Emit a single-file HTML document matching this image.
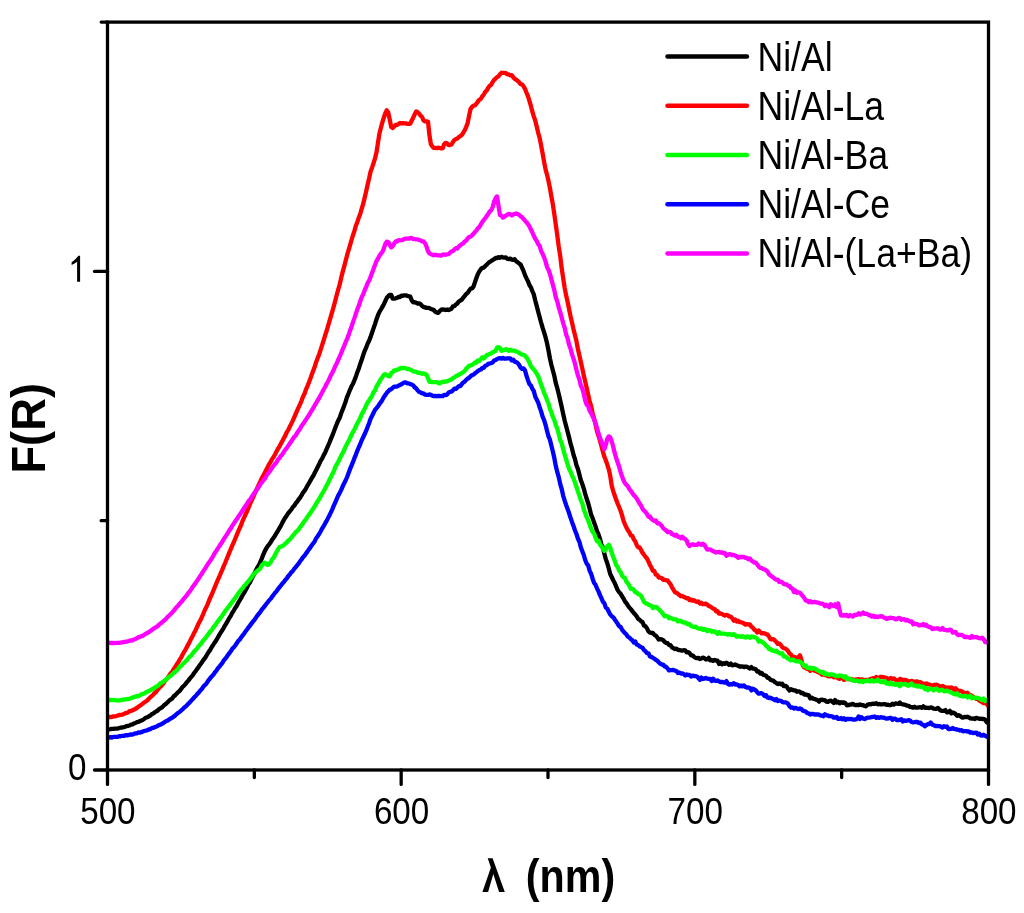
<!DOCTYPE html>
<html><head><meta charset="utf-8"><style>
html,body{margin:0;padding:0;background:#fff;overflow:hidden;}
svg{display:block;} svg{will-change:transform;}
</style></head><body>
<svg width="1024" height="913" viewBox="0 0 1024 913">
<rect width="1024" height="913" fill="#fff"/>
<g font-family="Liberation Sans, sans-serif" fill="#000">
<text transform="translate(107.90,823.50) scale(0.885,1)" text-anchor="middle" font-size="37.5" >500</text>
<text transform="translate(401.57,823.50) scale(0.885,1)" text-anchor="middle" font-size="37.5" >600</text>
<text transform="translate(695.23,823.50) scale(0.885,1)" text-anchor="middle" font-size="37.5" >700</text>
<text transform="translate(988.90,823.50) scale(0.885,1)" text-anchor="middle" font-size="37.5" >800</text>
<text transform="translate(86.50,780.30) scale(0.885,1)" text-anchor="end" font-size="37.5" >0</text><path d="M80.1,255.8 L78.4,255.8 C77,257.8 74.5,260.3 71.6,262.2 L71.6,265 C73.6,264 75.6,262.9 77.1,261.7 L77.1,281.8 L80.1,281.8 Z"/>
</g>
<g font-family="Liberation Sans, sans-serif" font-weight="bold" fill="#000">
<path d="M487.7,858.2 L492.6,858.2 L504.8,891.9 L499.1,891.9 L493.3,874.1 L488.1,891.9 L482.4,891.9 L490.9,867.5 Z"/>
<text transform="translate(525.80,892.00) scale(0.878,1)" text-anchor="start" font-size="47" >(nm)</text>
<g transform="translate(44.9,473.6) rotate(-90)"><text transform="translate(0.00,0.00) scale(0.935,1)" text-anchor="start" font-size="48.5" >F(R)</text></g>
</g>
<g stroke="#000" stroke-width="3.3" stroke-linecap="round">
<line x1="107.50" y1="770" x2="107.50" y2="784.4"/>
<line x1="254.33" y1="770" x2="254.33" y2="777.6"/>
<line x1="401.17" y1="770" x2="401.17" y2="784.4"/>
<line x1="548.00" y1="770" x2="548.00" y2="777.6"/>
<line x1="694.83" y1="770" x2="694.83" y2="784.4"/>
<line x1="841.67" y1="770" x2="841.67" y2="777.6"/>
<line x1="988.50" y1="770" x2="988.50" y2="784.4"/>
<line x1="107.5" y1="770.00" x2="94.5" y2="770.00"/>
<line x1="107.5" y1="520.70" x2="101.2" y2="520.70"/>
<line x1="107.5" y1="271.40" x2="94.5" y2="271.40"/>
<line x1="107.5" y1="22.10" x2="101.2" y2="22.10"/>
</g>
<g font-family="Liberation Sans, sans-serif" fill="#000">
<line x1="667.5" y1="56.6" x2="746.9" y2="56.6" stroke="#000000" stroke-width="4.5" stroke-linecap="round"/>
<text transform="translate(757.50,70.50) scale(0.89,1)" text-anchor="start" font-size="40" >Ni/Al</text>
<line x1="667.5" y1="105.8" x2="746.9" y2="105.8" stroke="#ff0000" stroke-width="4.5" stroke-linecap="round"/>
<text transform="translate(757.50,119.70) scale(0.89,1)" text-anchor="start" font-size="40" >Ni/Al-La</text>
<line x1="667.5" y1="155.0" x2="746.9" y2="155.0" stroke="#00ff00" stroke-width="4.5" stroke-linecap="round"/>
<text transform="translate(757.50,168.90) scale(0.89,1)" text-anchor="start" font-size="40" >Ni/Al-Ba</text>
<line x1="667.5" y1="204.3" x2="746.9" y2="204.3" stroke="#0000ff" stroke-width="4.5" stroke-linecap="round"/>
<text transform="translate(757.50,218.20) scale(0.89,1)" text-anchor="start" font-size="40" >Ni/Al-Ce</text>
<line x1="667.5" y1="253.5" x2="746.9" y2="253.5" stroke="#ff00ff" stroke-width="4.5" stroke-linecap="round"/>
<text transform="translate(757.50,267.40) scale(0.89,1)" text-anchor="start" font-size="40" >Ni/Al-(La+Ba)</text>
</g>
<clipPath id="clip"><rect x="107.5" y="22.1" width="881.0" height="747.9"/></clipPath>
<g clip-path="url(#clip)">
<polyline fill="none" stroke="#000000" stroke-width="4.3" stroke-linejoin="round" stroke-linecap="round" points="107.5,729.4 109.0,729.4 110.4,729.2 111.9,728.9 113.4,728.9 114.8,728.6 116.3,728.6 117.8,728.6 119.3,728.0 120.7,727.6 122.2,727.5 123.7,727.2 125.1,726.7 126.6,726.1 128.1,725.8 129.5,725.5 131.0,724.6 132.5,724.3 134.0,723.4 135.4,722.9 136.9,722.2 138.4,721.9 139.8,721.0 141.3,720.6 142.8,719.8 144.2,719.0 145.7,717.7 147.2,717.2 148.7,716.5 150.1,715.6 151.6,714.3 153.1,713.6 154.5,712.5 156.0,711.5 157.5,710.8 158.9,709.3 160.4,708.3 161.9,707.4 163.4,705.9 164.8,704.7 166.3,703.5 167.8,702.2 169.2,700.6 170.7,699.5 172.2,698.4 173.6,696.4 175.1,695.4 176.6,693.7 178.1,692.1 179.5,691.0 181.0,689.2 182.5,687.1 183.9,685.7 185.4,684.1 186.9,682.2 188.3,680.6 189.8,678.6 191.3,676.9 192.8,675.2 194.2,672.8 195.7,671.1 197.2,668.9 198.6,667.0 200.1,664.7 201.6,662.7 203.0,660.6 204.5,658.7 206.0,656.5 207.5,653.8 208.9,651.6 210.4,649.6 211.9,646.7 213.3,644.7 214.8,642.4 216.3,640.3 217.7,637.8 219.2,635.1 220.7,632.7 222.2,630.3 223.6,628.1 225.1,625.3 226.6,622.8 228.0,620.4 229.5,617.8 231.0,615.3 232.4,612.6 233.9,610.3 235.4,607.7 236.9,605.5 238.3,602.8 239.8,600.2 241.3,597.7 242.7,595.0 244.2,592.7 245.7,589.9 247.1,587.4 248.6,584.4 250.1,582.1 251.6,579.1 253.0,576.1 254.5,573.4 256.0,570.2 257.4,567.5 258.9,565.3 260.4,561.8 261.8,558.5 263.3,554.6 264.8,551.1 266.3,548.4 267.7,546.1 269.2,544.3 270.7,542.2 272.1,539.8 273.6,537.8 275.1,535.5 276.5,532.9 278.0,530.8 279.5,528.0 281.0,525.7 282.4,522.6 283.9,519.9 285.4,517.4 286.8,515.4 288.3,513.1 289.8,511.3 291.2,509.7 292.7,507.3 294.2,505.8 295.7,503.3 297.1,501.8 298.6,499.5 300.1,497.7 301.5,495.4 303.0,492.7 304.5,490.9 305.9,488.6 307.4,485.8 308.9,483.2 310.4,480.7 311.8,478.0 313.3,475.8 314.8,472.7 316.2,470.0 317.7,467.0 319.2,464.0 320.6,460.9 322.1,458.6 323.6,455.4 325.1,452.7 326.5,449.4 328.0,445.9 329.5,442.5 330.9,438.9 332.4,435.3 333.9,431.5 335.3,427.8 336.8,423.9 338.3,420.4 339.8,417.5 341.2,413.3 342.7,409.4 344.2,405.6 345.6,401.7 347.1,396.8 348.6,393.3 350.0,389.8 351.5,386.3 353.0,383.7 354.5,380.1 355.9,376.4 357.4,372.1 358.9,368.2 360.3,363.7 361.8,359.5 363.3,354.9 364.7,350.8 366.2,347.6 367.7,343.4 369.2,340.5 370.6,336.9 372.1,332.5 373.6,328.1 375.0,324.1 376.5,319.3 378.0,315.2 379.4,312.0 380.9,309.5 382.4,306.9 383.9,304.2 385.3,301.1 386.8,297.8 388.3,296.2 389.7,294.9 391.2,294.8 392.7,298.6 394.1,298.6 395.6,298.3 397.1,297.8 398.6,296.9 400.0,297.1 401.5,295.6 403.0,295.8 404.4,295.3 405.9,295.3 407.4,295.9 408.8,296.3 410.3,296.7 411.8,300.6 413.3,302.3 414.7,302.2 416.2,302.8 417.7,303.5 419.1,303.3 420.6,304.1 422.1,306.0 423.5,306.9 425.0,307.4 426.5,307.9 428.0,307.9 429.4,308.1 430.9,309.0 432.4,309.4 433.8,310.0 435.3,311.8 436.8,312.4 438.2,312.9 439.7,311.1 441.2,309.7 442.7,309.5 444.1,309.6 445.6,310.0 447.1,309.6 448.5,310.0 450.0,309.4 451.5,308.8 452.9,306.3 454.4,306.1 455.9,304.5 457.4,303.4 458.8,301.5 460.3,300.6 461.8,299.6 463.2,297.7 464.7,296.0 466.2,294.0 467.6,292.9 469.1,290.8 470.6,288.6 472.1,288.4 473.5,286.5 475.0,282.1 476.5,277.7 477.9,274.0 479.4,271.3 480.9,269.2 482.3,267.9 483.8,267.6 485.3,266.0 486.8,264.6 488.2,263.1 489.7,261.9 491.2,261.1 492.6,260.1 494.1,259.2 495.6,258.0 497.0,258.1 498.5,257.1 500.0,257.8 501.5,256.8 502.9,257.4 504.4,257.6 505.9,257.3 507.3,258.9 508.8,259.1 510.3,258.6 511.7,259.6 513.2,259.9 514.7,259.2 516.2,261.4 517.6,262.2 519.1,263.4 520.6,264.5 522.0,267.6 523.5,270.9 525.0,275.1 526.4,278.1 527.9,281.1 529.4,285.0 530.9,287.3 532.3,291.0 533.8,294.4 535.3,300.8 536.7,305.9 538.2,311.7 539.7,317.3 541.1,322.5 542.6,327.6 544.1,332.3 545.6,337.4 547.0,343.1 548.5,350.5 550.0,358.6 551.4,365.0 552.9,370.5 554.4,376.2 555.8,383.1 557.3,388.2 558.8,394.2 560.3,400.8 561.7,407.0 563.2,414.0 564.7,420.7 566.1,426.0 567.6,431.8 569.1,437.4 570.5,443.3 572.0,448.5 573.5,454.8 575.0,459.3 576.4,464.9 577.9,468.9 579.4,474.6 580.8,480.1 582.3,484.0 583.8,488.6 585.2,493.9 586.7,498.8 588.2,503.2 589.7,508.9 591.1,514.7 592.6,518.1 594.1,522.6 595.5,526.3 597.0,531.2 598.5,534.4 599.9,538.6 601.4,544.3 602.9,547.6 604.4,553.8 605.8,559.1 607.3,563.3 608.8,568.5 610.2,574.1 611.7,577.0 613.2,580.2 614.6,582.7 616.1,586.4 617.6,589.9 619.1,592.2 620.5,593.6 622.0,596.1 623.5,598.6 624.9,601.3 626.4,603.2 627.9,605.5 629.3,607.5 630.8,609.1 632.3,611.1 633.8,613.0 635.2,614.5 636.7,616.4 638.2,618.9 639.6,619.8 641.1,621.3 642.6,622.2 644.0,625.6 645.5,626.2 647.0,628.4 648.5,631.4 649.9,632.5 651.4,633.0 652.9,633.0 654.3,634.8 655.8,635.6 657.3,637.4 658.7,639.5 660.2,639.1 661.7,639.4 663.2,640.1 664.6,641.9 666.1,642.8 667.6,643.2 669.0,645.0 670.5,645.1 672.0,647.4 673.4,648.2 674.9,649.0 676.4,648.6 677.9,649.9 679.3,650.0 680.8,650.3 682.3,650.6 683.7,650.2 685.2,650.4 686.7,652.3 688.1,652.1 689.6,653.1 691.1,655.4 692.6,655.3 694.0,656.8 695.5,657.8 697.0,658.2 698.4,657.8 699.9,659.0 701.4,658.5 702.8,657.7 704.3,658.1 705.8,659.4 707.3,659.4 708.7,657.9 710.2,660.3 711.7,660.0 713.1,660.8 714.6,660.0 716.1,660.6 717.5,660.7 719.0,663.9 720.5,662.6 722.0,664.3 723.4,663.1 724.9,663.9 726.4,662.7 727.8,663.8 729.3,664.9 730.8,663.5 732.2,665.3 733.7,665.1 735.2,664.5 736.7,665.3 738.1,665.8 739.6,666.5 741.1,666.5 742.5,666.5 744.0,667.1 745.5,666.7 746.9,666.7 748.4,667.7 749.9,668.5 751.4,667.1 752.8,668.6 754.3,668.7 755.8,669.3 757.2,671.5 758.7,671.4 760.2,673.6 761.6,672.9 763.1,674.7 764.6,675.2 766.1,675.7 767.5,677.6 769.0,678.1 770.5,679.7 771.9,680.3 773.4,680.6 774.9,682.2 776.3,683.0 777.8,684.1 779.3,683.3 780.8,684.3 782.2,683.6 783.7,686.0 785.2,685.8 786.6,686.4 788.1,688.8 789.6,690.5 791.0,689.2 792.5,689.9 794.0,690.4 795.5,690.4 796.9,691.8 798.4,691.3 799.9,691.8 801.3,693.2 802.8,693.0 804.3,694.6 805.7,694.4 807.2,695.0 808.7,695.2 810.2,698.4 811.6,697.6 813.1,698.6 814.6,699.0 816.0,699.6 817.5,700.0 819.0,701.6 820.4,699.8 821.9,699.6 823.4,700.2 824.9,700.1 826.3,701.7 827.8,701.9 829.3,700.8 830.7,700.7 832.2,701.6 833.7,702.9 835.1,700.1 836.6,702.6 838.1,701.7 839.6,703.3 841.0,702.1 842.5,702.9 844.0,702.4 845.4,703.2 846.9,705.3 848.4,705.2 849.8,704.6 851.3,704.5 852.8,703.8 854.3,704.8 855.7,705.1 857.2,705.0 858.7,705.0 860.1,704.3 861.6,705.1 863.1,705.1 864.5,706.0 866.0,706.3 867.5,704.8 869.0,704.2 870.4,704.4 871.9,703.8 873.4,703.6 874.8,703.9 876.3,703.2 877.8,704.4 879.2,704.0 880.7,704.4 882.2,704.3 883.7,704.2 885.1,704.2 886.6,704.9 888.1,704.7 889.5,705.2 891.0,705.0 892.5,703.8 893.9,704.6 895.4,703.4 896.9,703.7 898.4,703.8 899.8,702.5 901.3,704.0 902.8,704.3 904.2,704.6 905.7,705.0 907.2,705.7 908.6,705.9 910.1,706.9 911.6,707.1 913.1,707.6 914.5,706.7 916.0,707.7 917.5,707.6 918.9,707.4 920.4,707.2 921.9,707.9 923.3,706.3 924.8,707.8 926.3,707.7 927.8,707.8 929.2,708.0 930.7,707.4 932.2,707.9 933.6,708.7 935.1,708.8 936.6,708.8 938.0,707.9 939.5,709.7 941.0,710.6 942.5,710.9 943.9,710.9 945.4,710.1 946.9,712.4 948.3,712.1 949.8,710.9 951.3,713.4 952.7,712.5 954.2,713.1 955.7,714.1 957.2,715.8 958.6,715.1 960.1,715.9 961.6,717.3 963.0,717.6 964.5,716.8 966.0,717.1 967.4,716.7 968.9,717.4 970.4,718.4 971.9,718.6 973.3,718.4 974.8,719.0 976.3,717.8 977.7,718.3 979.2,718.8 980.7,718.7 982.1,719.0 983.6,718.9 985.1,719.7 986.6,722.0 988.0,723.1"/>
<polyline fill="none" stroke="#ff0000" stroke-width="4.3" stroke-linejoin="round" stroke-linecap="round" points="107.5,716.9 109.0,717.2 110.4,717.0 111.9,716.9 113.4,716.3 114.8,716.3 116.3,716.0 117.8,715.6 119.3,715.0 120.7,714.9 122.2,714.7 123.7,714.1 125.1,713.4 126.6,712.9 128.1,712.5 129.5,711.1 131.0,710.9 132.5,710.3 134.0,709.5 135.4,708.9 136.9,707.9 138.4,706.8 139.8,705.8 141.3,704.8 142.8,703.5 144.2,702.5 145.7,701.5 147.2,700.5 148.7,698.8 150.1,697.5 151.6,696.1 153.1,694.9 154.5,693.2 156.0,692.0 157.5,689.9 158.9,688.4 160.4,686.7 161.9,685.2 163.4,683.4 164.8,681.1 166.3,679.3 167.8,677.6 169.2,675.4 170.7,673.2 172.2,671.6 173.6,669.3 175.1,667.1 176.6,664.6 178.1,662.5 179.5,659.9 181.0,657.7 182.5,654.8 183.9,652.2 185.4,649.8 186.9,646.9 188.3,644.4 189.8,641.5 191.3,638.4 192.8,635.7 194.2,632.7 195.7,629.9 197.2,626.6 198.6,623.5 200.1,620.7 201.6,617.7 203.0,614.5 204.5,610.8 206.0,607.6 207.5,604.6 208.9,600.9 210.4,597.3 211.9,594.2 213.3,590.8 214.8,587.1 216.3,583.5 217.7,580.1 219.2,577.0 220.7,573.3 222.2,569.9 223.6,566.4 225.1,563.0 226.6,559.3 228.0,555.9 229.5,552.1 231.0,548.7 232.4,545.1 233.9,542.0 235.4,538.2 236.9,534.6 238.3,531.2 239.8,527.8 241.3,524.5 242.7,520.6 244.2,517.3 245.7,514.0 247.1,511.2 248.6,507.5 250.1,503.9 251.6,500.7 253.0,497.7 254.5,494.0 256.0,490.7 257.4,487.8 258.9,484.5 260.4,481.4 261.8,478.1 263.3,475.6 264.8,472.7 266.3,469.7 267.7,467.0 269.2,463.9 270.7,461.8 272.1,459.1 273.6,456.8 275.1,454.3 276.5,451.6 278.0,448.7 279.5,446.5 281.0,443.6 282.4,441.0 283.9,438.1 285.4,435.4 286.8,432.1 288.3,429.9 289.8,426.7 291.2,423.9 292.7,420.9 294.2,417.4 295.7,413.8 297.1,410.7 298.6,407.3 300.1,404.1 301.5,400.8 303.0,396.8 304.5,393.7 305.9,389.7 307.4,386.3 308.9,382.4 310.4,378.5 311.8,374.6 313.3,370.5 314.8,366.4 316.2,362.0 317.7,358.1 319.2,354.2 320.6,349.8 322.1,345.2 323.6,340.5 325.1,335.5 326.5,331.3 328.0,326.1 329.5,321.2 330.9,316.1 332.4,311.1 333.9,305.8 335.3,300.6 336.8,294.8 338.3,289.3 339.8,284.1 341.2,277.7 342.7,271.9 344.2,266.4 345.6,261.0 347.1,255.2 348.6,250.2 350.0,245.3 351.5,240.0 353.0,235.1 354.5,230.7 355.9,225.7 357.4,221.7 358.9,217.4 360.3,213.8 361.8,208.3 363.3,203.5 364.7,197.5 366.2,191.2 367.7,184.3 369.2,178.0 370.6,171.4 372.1,167.4 373.6,163.0 375.0,158.3 376.5,152.4 378.0,142.6 379.4,133.7 380.9,127.8 382.4,122.1 383.9,117.5 385.3,113.2 386.8,110.3 388.3,112.7 389.7,119.4 391.2,127.0 392.7,128.1 394.1,126.6 395.6,125.0 397.1,124.8 398.6,123.9 400.0,123.0 401.5,123.5 403.0,123.1 404.4,123.3 405.9,123.4 407.4,123.9 408.8,123.9 410.3,123.6 411.8,120.4 413.3,117.5 414.7,114.3 416.2,111.4 417.7,112.1 419.1,113.6 420.6,115.7 422.1,117.0 423.5,120.3 425.0,121.4 426.5,121.4 428.0,121.6 429.4,134.9 430.9,144.3 432.4,146.5 433.8,147.9 435.3,147.8 436.8,148.2 438.2,147.7 439.7,148.0 441.2,148.4 442.7,148.4 444.1,144.3 445.6,142.9 447.1,143.4 448.5,145.0 450.0,145.0 451.5,144.5 452.9,142.1 454.4,140.0 455.9,139.1 457.4,138.5 458.8,137.1 460.3,136.2 461.8,134.9 463.2,132.9 464.7,130.4 466.2,126.9 467.6,123.3 469.1,115.6 470.6,108.8 472.1,106.9 473.5,105.6 475.0,105.4 476.5,103.6 477.9,101.5 479.4,99.7 480.9,98.7 482.3,96.2 483.8,94.6 485.3,91.8 486.8,90.4 488.2,87.7 489.7,85.7 491.2,84.7 492.6,82.1 494.1,79.9 495.6,78.6 497.0,77.2 498.5,76.2 500.0,74.2 501.5,72.7 502.9,72.8 504.4,72.9 505.9,73.2 507.3,74.3 508.8,74.4 510.3,75.3 511.7,75.2 513.2,77.1 514.7,79.0 516.2,79.7 517.6,80.9 519.1,82.2 520.6,84.2 522.0,84.3 523.5,86.3 525.0,88.9 526.4,92.5 527.9,95.9 529.4,100.9 530.9,105.9 532.3,111.5 533.8,116.4 535.3,120.8 536.7,126.6 538.2,132.8 539.7,138.1 541.1,145.3 542.6,153.3 544.1,161.8 545.6,169.7 547.0,174.6 548.5,181.1 550.0,188.4 551.4,196.6 552.9,204.7 554.4,214.8 555.8,224.7 557.3,235.5 558.8,247.0 560.3,256.5 561.7,268.4 563.2,278.3 564.7,288.1 566.1,295.2 567.6,301.8 569.1,309.2 570.5,316.2 572.0,322.4 573.5,329.2 575.0,335.2 576.4,340.8 577.9,349.0 579.4,355.4 580.8,361.8 582.3,368.4 583.8,375.6 585.2,381.5 586.7,388.0 588.2,394.8 589.7,401.6 591.1,406.0 592.6,413.3 594.1,418.2 595.5,424.0 597.0,431.2 598.5,435.9 599.9,440.4 601.4,445.9 602.9,451.6 604.4,456.8 605.8,460.2 607.3,464.6 608.8,469.3 610.2,475.6 611.7,485.6 613.2,491.1 614.6,495.3 616.1,499.5 617.6,503.5 619.1,507.0 620.5,510.5 622.0,515.1 623.5,520.7 624.9,524.1 626.4,527.5 627.9,530.2 629.3,532.2 630.8,535.4 632.3,535.9 633.8,539.4 635.2,541.2 636.7,545.1 638.2,547.4 639.6,547.4 641.1,550.0 642.6,552.9 644.0,554.8 645.5,556.8 647.0,558.5 648.5,561.7 649.9,564.9 651.4,567.5 652.9,570.9 654.3,571.0 655.8,574.7 657.3,575.0 658.7,577.5 660.2,577.7 661.7,578.1 663.2,579.8 664.6,579.7 666.1,580.3 667.6,580.5 669.0,582.3 670.5,584.1 672.0,587.3 673.4,589.5 674.9,592.2 676.4,592.8 677.9,593.7 679.3,595.1 680.8,596.2 682.3,596.0 683.7,596.8 685.2,597.5 686.7,598.3 688.1,598.2 689.6,600.1 691.1,599.6 692.6,600.7 694.0,600.2 695.5,601.4 697.0,601.8 698.4,601.5 699.9,603.6 701.4,602.8 702.8,604.2 704.3,604.1 705.8,603.6 707.3,604.5 708.7,605.9 710.2,606.5 711.7,607.5 713.1,608.6 714.6,609.0 716.1,611.4 717.5,611.1 719.0,613.7 720.5,613.5 722.0,614.0 723.4,614.8 724.9,615.6 726.4,614.9 727.8,615.3 729.3,616.5 730.8,616.6 732.2,618.2 733.7,620.7 735.2,619.6 736.7,621.5 738.1,620.6 739.6,622.2 741.1,622.2 742.5,622.7 744.0,623.5 745.5,624.7 746.9,624.1 748.4,624.5 749.9,624.5 751.4,626.7 752.8,627.6 754.3,629.8 755.8,630.4 757.2,632.4 758.7,630.5 760.2,632.1 761.6,633.4 763.1,633.1 764.6,633.3 766.1,634.3 767.5,634.4 769.0,636.5 770.5,639.2 771.9,639.5 773.4,639.1 774.9,640.5 776.3,641.9 777.8,643.9 779.3,643.7 780.8,644.9 782.2,647.1 783.7,648.2 785.2,648.5 786.6,649.5 788.1,651.1 789.6,653.6 791.0,654.3 792.5,657.5 794.0,656.9 795.5,657.4 796.9,658.0 798.4,657.1 799.9,655.3 801.3,659.4 802.8,665.4 804.3,667.3 805.7,667.9 807.2,669.1 808.7,668.5 810.2,671.0 811.6,668.5 813.1,669.7 814.6,670.7 816.0,671.1 817.5,671.9 819.0,672.7 820.4,673.0 821.9,674.7 823.4,673.0 824.9,675.2 826.3,675.2 827.8,676.1 829.3,676.4 830.7,675.8 832.2,676.1 833.7,677.3 835.1,677.1 836.6,676.4 838.1,678.5 839.6,678.8 841.0,676.4 842.5,678.0 844.0,679.9 845.4,679.1 846.9,679.1 848.4,679.2 849.8,679.2 851.3,679.6 852.8,679.4 854.3,680.3 855.7,679.5 857.2,679.5 858.7,679.0 860.1,679.8 861.6,679.2 863.1,679.7 864.5,680.5 866.0,680.0 867.5,679.9 869.0,679.6 870.4,679.1 871.9,678.6 873.4,678.2 874.8,678.6 876.3,677.0 877.8,678.5 879.2,677.4 880.7,676.8 882.2,677.0 883.7,677.1 885.1,678.0 886.6,677.8 888.1,679.6 889.5,678.7 891.0,678.0 892.5,679.3 893.9,678.4 895.4,679.8 896.9,680.5 898.4,680.3 899.8,678.9 901.3,679.3 902.8,681.0 904.2,680.0 905.7,679.8 907.2,680.6 908.6,681.8 910.1,681.3 911.6,680.9 913.1,681.4 914.5,682.0 916.0,681.5 917.5,681.5 918.9,682.6 920.4,682.2 921.9,683.1 923.3,683.5 924.8,685.4 926.3,683.4 927.8,684.2 929.2,684.5 930.7,685.1 932.2,685.8 933.6,685.0 935.1,685.0 936.6,684.6 938.0,685.3 939.5,686.6 941.0,686.5 942.5,686.0 943.9,686.7 945.4,687.3 946.9,688.0 948.3,687.5 949.8,688.1 951.3,687.4 952.7,688.2 954.2,690.5 955.7,688.3 957.2,690.0 958.6,690.9 960.1,690.9 961.6,691.2 963.0,692.2 964.5,692.9 966.0,693.4 967.4,692.8 968.9,694.7 970.4,694.9 971.9,695.8 973.3,697.0 974.8,698.0 976.3,698.9 977.7,698.7 979.2,700.5 980.7,701.4 982.1,702.2 983.6,703.2 985.1,703.0 986.6,703.9 988.0,705.5"/>
<polyline fill="none" stroke="#00ff00" stroke-width="4.3" stroke-linejoin="round" stroke-linecap="round" points="107.5,699.5 109.0,700.0 110.4,700.0 111.9,700.1 113.4,699.9 114.8,700.1 116.3,700.3 117.8,700.4 119.3,700.4 120.7,700.0 122.2,699.9 123.7,699.5 125.1,699.6 126.6,699.2 128.1,699.0 129.5,698.9 131.0,698.2 132.5,697.5 134.0,697.2 135.4,696.6 136.9,696.1 138.4,696.1 139.8,695.3 141.3,694.3 142.8,694.1 144.2,693.5 145.7,692.5 147.2,691.7 148.7,691.0 150.1,690.3 151.6,689.5 153.1,688.8 154.5,687.8 156.0,686.9 157.5,686.0 158.9,684.8 160.4,683.3 161.9,682.6 163.4,681.6 164.8,680.3 166.3,679.4 167.8,677.9 169.2,676.6 170.7,675.8 172.2,674.4 173.6,673.0 175.1,671.8 176.6,670.5 178.1,668.9 179.5,666.9 181.0,665.9 182.5,664.4 183.9,662.8 185.4,661.5 186.9,660.1 188.3,658.2 189.8,656.5 191.3,655.5 192.8,653.3 194.2,651.4 195.7,650.0 197.2,648.3 198.6,646.3 200.1,644.8 201.6,642.7 203.0,640.8 204.5,639.1 206.0,637.3 207.5,635.2 208.9,633.4 210.4,631.4 211.9,630.0 213.3,627.3 214.8,625.8 216.3,623.5 217.7,621.5 219.2,619.6 220.7,617.7 222.2,615.7 223.6,613.5 225.1,611.3 226.6,609.3 228.0,607.5 229.5,605.6 231.0,603.7 232.4,601.6 233.9,599.7 235.4,597.8 236.9,595.6 238.3,593.4 239.8,591.5 241.3,589.5 242.7,588.3 244.2,585.9 245.7,584.5 247.1,582.6 248.6,581.0 250.1,579.1 251.6,577.1 253.0,575.2 254.5,573.5 256.0,572.0 257.4,570.7 258.9,569.7 260.4,568.2 261.8,565.2 263.3,563.7 264.8,562.6 266.3,563.8 267.7,565.0 269.2,564.0 270.7,562.2 272.1,559.4 273.6,557.7 275.1,554.7 276.5,552.1 278.0,549.4 279.5,547.0 281.0,546.5 282.4,545.9 283.9,545.1 285.4,543.6 286.8,542.3 288.3,540.5 289.8,539.4 291.2,537.9 292.7,535.8 294.2,534.1 295.7,532.1 297.1,530.9 298.6,529.5 300.1,527.2 301.5,525.4 303.0,523.3 304.5,520.9 305.9,519.4 307.4,516.8 308.9,514.9 310.4,512.9 311.8,510.8 313.3,508.5 314.8,506.2 316.2,503.7 317.7,501.2 319.2,499.1 320.6,496.4 322.1,493.8 323.6,491.2 325.1,488.7 326.5,485.7 328.0,482.9 329.5,479.8 330.9,477.1 332.4,473.9 333.9,471.1 335.3,467.1 336.8,464.3 338.3,461.7 339.8,458.6 341.2,455.6 342.7,453.2 344.2,449.8 345.6,446.6 347.1,443.6 348.6,441.0 350.0,438.1 351.5,434.7 353.0,431.8 354.5,429.3 355.9,426.4 357.4,423.2 358.9,420.6 360.3,417.7 361.8,414.1 363.3,411.4 364.7,408.6 366.2,405.4 367.7,402.3 369.2,400.2 370.6,398.0 372.1,395.7 373.6,391.9 375.0,390.5 376.5,386.4 378.0,384.2 379.4,381.6 380.9,379.2 382.4,377.0 383.9,374.8 385.3,374.2 386.8,374.8 388.3,376.1 389.7,376.3 391.2,373.0 392.7,372.3 394.1,370.4 395.6,370.4 397.1,369.7 398.6,369.2 400.0,368.4 401.5,367.9 403.0,368.3 404.4,367.8 405.9,368.3 407.4,369.2 408.8,369.1 410.3,369.7 411.8,370.2 413.3,371.4 414.7,371.7 416.2,371.8 417.7,372.8 419.1,372.6 420.6,373.1 422.1,373.8 423.5,373.4 425.0,374.2 426.5,374.6 428.0,378.0 429.4,381.8 430.9,381.5 432.4,382.2 433.8,382.1 435.3,382.1 436.8,382.1 438.2,383.1 439.7,383.3 441.2,382.4 442.7,381.7 444.1,382.0 445.6,381.3 447.1,381.4 448.5,380.7 450.0,380.1 451.5,379.4 452.9,378.1 454.4,377.3 455.9,376.0 457.4,375.7 458.8,374.5 460.3,374.1 461.8,372.8 463.2,372.1 464.7,370.9 466.2,368.6 467.6,367.3 469.1,365.8 470.6,365.4 472.1,364.9 473.5,363.8 475.0,362.5 476.5,362.6 477.9,360.5 479.4,360.9 480.9,359.0 482.3,357.2 483.8,358.5 485.3,357.1 486.8,355.0 488.2,354.7 489.7,353.9 491.2,353.5 492.6,352.2 494.1,351.7 495.6,350.9 497.0,347.6 498.5,347.2 500.0,348.1 501.5,350.8 502.9,349.8 504.4,350.2 505.9,349.2 507.3,349.5 508.8,350.7 510.3,349.7 511.7,350.6 513.2,350.7 514.7,350.7 516.2,351.6 517.6,352.1 519.1,352.7 520.6,353.9 522.0,354.6 523.5,354.8 525.0,355.7 526.4,357.5 527.9,359.3 529.4,362.6 530.9,366.2 532.3,367.8 533.8,369.5 535.3,371.4 536.7,373.4 538.2,376.5 539.7,380.3 541.1,384.6 542.6,388.4 544.1,392.8 545.6,396.1 547.0,400.0 548.5,403.5 550.0,409.0 551.4,412.4 552.9,417.0 554.4,420.4 555.8,425.0 557.3,428.8 558.8,434.3 560.3,440.3 561.7,443.2 563.2,449.4 564.7,454.7 566.1,459.1 567.6,464.3 569.1,468.9 570.5,471.5 572.0,475.5 573.5,478.5 575.0,482.6 576.4,486.8 577.9,491.4 579.4,495.7 580.8,500.1 582.3,503.3 583.8,509.5 585.2,513.3 586.7,517.2 588.2,520.5 589.7,524.6 591.1,528.7 592.6,531.9 594.1,533.6 595.5,537.6 597.0,541.2 598.5,540.6 599.9,544.4 601.4,546.4 602.9,548.4 604.4,551.0 605.8,549.3 607.3,546.3 608.8,544.8 610.2,547.6 611.7,552.8 613.2,557.0 614.6,560.4 616.1,565.1 617.6,566.7 619.1,570.6 620.5,571.9 622.0,575.5 623.5,577.3 624.9,578.0 626.4,581.8 627.9,583.3 629.3,585.7 630.8,588.8 632.3,588.7 633.8,589.8 635.2,592.3 636.7,592.3 638.2,594.1 639.6,594.5 641.1,595.9 642.6,598.9 644.0,601.9 645.5,603.1 647.0,603.6 648.5,604.7 649.9,605.4 651.4,605.8 652.9,608.1 654.3,607.2 655.8,606.8 657.3,607.7 658.7,609.2 660.2,610.6 661.7,612.3 663.2,614.3 664.6,616.3 666.1,615.8 667.6,616.4 669.0,618.2 670.5,617.6 672.0,618.5 673.4,619.4 674.9,619.4 676.4,619.4 677.9,621.4 679.3,620.9 680.8,620.8 682.3,622.1 683.7,622.5 685.2,622.3 686.7,623.7 688.1,624.4 689.6,623.9 691.1,626.0 692.6,626.6 694.0,627.0 695.5,626.6 697.0,627.9 698.4,628.5 699.9,628.9 701.4,628.4 702.8,629.9 704.3,628.9 705.8,629.9 707.3,631.2 708.7,630.0 710.2,630.4 711.7,631.8 713.1,631.1 714.6,631.6 716.1,632.6 717.5,633.8 719.0,632.1 720.5,633.6 722.0,633.7 723.4,633.7 724.9,633.9 726.4,633.9 727.8,634.7 729.3,633.9 730.8,634.6 732.2,634.8 733.7,634.1 735.2,635.1 736.7,636.7 738.1,636.3 739.6,636.1 741.1,636.8 742.5,636.2 744.0,637.1 745.5,637.5 746.9,636.3 748.4,636.8 749.9,637.7 751.4,636.5 752.8,637.2 754.3,636.8 755.8,637.6 757.2,638.7 758.7,641.6 760.2,640.8 761.6,641.6 763.1,642.6 764.6,644.0 766.1,645.8 767.5,646.7 769.0,649.1 770.5,648.8 771.9,650.6 773.4,650.5 774.9,651.4 776.3,650.7 777.8,652.3 779.3,653.0 780.8,653.7 782.2,653.3 783.7,656.4 785.2,656.6 786.6,657.6 788.1,658.7 789.6,659.4 791.0,660.4 792.5,659.6 794.0,660.1 795.5,661.2 796.9,661.4 798.4,661.4 799.9,661.7 801.3,662.5 802.8,664.3 804.3,666.2 805.7,665.4 807.2,667.9 808.7,668.0 810.2,667.6 811.6,669.0 813.1,668.0 814.6,668.3 816.0,669.2 817.5,670.4 819.0,671.1 820.4,671.7 821.9,672.8 823.4,671.9 824.9,674.3 826.3,673.5 827.8,674.4 829.3,674.8 830.7,674.4 832.2,674.4 833.7,674.8 835.1,675.6 836.6,676.1 838.1,676.2 839.6,675.3 841.0,675.7 842.5,676.0 844.0,677.4 845.4,676.2 846.9,679.1 848.4,678.4 849.8,678.7 851.3,679.9 852.8,680.6 854.3,680.3 855.7,681.0 857.2,680.6 858.7,681.5 860.1,681.7 861.6,680.8 863.1,682.0 864.5,681.1 866.0,681.1 867.5,680.4 869.0,680.8 870.4,681.5 871.9,680.1 873.4,681.5 874.8,681.2 876.3,681.2 877.8,679.5 879.2,681.2 880.7,682.0 882.2,681.4 883.7,682.4 885.1,681.1 886.6,683.6 888.1,682.9 889.5,684.2 891.0,682.5 892.5,684.4 893.9,684.0 895.4,684.9 896.9,683.8 898.4,684.1 899.8,686.2 901.3,684.0 902.8,684.1 904.2,684.4 905.7,683.9 907.2,685.4 908.6,685.8 910.1,684.1 911.6,683.4 913.1,685.4 914.5,685.6 916.0,685.8 917.5,686.6 918.9,685.7 920.4,686.8 921.9,686.5 923.3,686.9 924.8,688.9 926.3,688.0 927.8,690.2 929.2,688.8 930.7,688.4 932.2,689.5 933.6,690.3 935.1,689.6 936.6,688.5 938.0,689.9 939.5,690.8 941.0,689.8 942.5,689.9 943.9,691.4 945.4,691.1 946.9,690.6 948.3,691.4 949.8,691.6 951.3,692.7 952.7,693.0 954.2,694.2 955.7,694.4 957.2,693.3 958.6,695.1 960.1,695.9 961.6,695.9 963.0,696.6 964.5,695.8 966.0,695.8 967.4,697.4 968.9,696.3 970.4,695.8 971.9,698.3 973.3,697.4 974.8,698.0 976.3,697.6 977.7,698.0 979.2,698.4 980.7,699.3 982.1,700.1 983.6,698.6 985.1,701.1 986.6,700.1 988.0,700.6"/>
<polyline fill="none" stroke="#0000ff" stroke-width="4.3" stroke-linejoin="round" stroke-linecap="round" points="107.5,737.9 109.0,737.6 110.4,737.1 111.9,737.6 113.4,736.9 114.8,736.9 116.3,736.8 117.8,736.8 119.3,736.2 120.7,736.3 122.2,735.8 123.7,735.9 125.1,735.3 126.6,735.1 128.1,735.3 129.5,734.8 131.0,734.4 132.5,734.6 134.0,733.9 135.4,733.3 136.9,733.3 138.4,732.5 139.8,732.6 141.3,732.2 142.8,731.5 144.2,731.0 145.7,730.7 147.2,730.2 148.7,729.5 150.1,729.3 151.6,728.2 153.1,727.9 154.5,727.3 156.0,726.7 157.5,726.1 158.9,725.1 160.4,724.7 161.9,723.8 163.4,722.9 164.8,721.9 166.3,721.1 167.8,720.5 169.2,719.3 170.7,718.5 172.2,717.7 173.6,716.6 175.1,715.6 176.6,714.1 178.1,712.8 179.5,712.0 181.0,710.6 182.5,709.4 183.9,707.8 185.4,706.7 186.9,705.2 188.3,703.7 189.8,702.2 191.3,700.6 192.8,699.0 194.2,697.4 195.7,696.0 197.2,694.0 198.6,692.8 200.1,690.7 201.6,689.2 203.0,687.2 204.5,685.4 206.0,684.1 207.5,681.8 208.9,679.8 210.4,678.0 211.9,676.2 213.3,674.8 214.8,672.5 216.3,670.8 217.7,668.5 219.2,666.8 220.7,664.9 222.2,663.2 223.6,660.7 225.1,659.0 226.6,657.0 228.0,654.8 229.5,653.0 231.0,651.0 232.4,648.6 233.9,647.2 235.4,645.2 236.9,643.0 238.3,640.9 239.8,639.5 241.3,637.2 242.7,635.4 244.2,633.5 245.7,631.2 247.1,629.5 248.6,627.3 250.1,625.4 251.6,623.4 253.0,621.5 254.5,619.8 256.0,617.6 257.4,615.6 258.9,613.7 260.4,611.9 261.8,609.7 263.3,607.8 264.8,606.0 266.3,604.0 267.7,602.2 269.2,600.2 270.7,598.8 272.1,596.8 273.6,594.7 275.1,592.7 276.5,591.3 278.0,589.1 279.5,587.2 281.0,585.4 282.4,583.5 283.9,581.9 285.4,579.8 286.8,578.4 288.3,576.0 289.8,574.5 291.2,572.4 292.7,571.1 294.2,568.9 295.7,567.1 297.1,565.4 298.6,563.6 300.1,561.3 301.5,559.5 303.0,557.3 304.5,555.7 305.9,553.6 307.4,551.6 308.9,549.4 310.4,547.4 311.8,545.2 313.3,543.2 314.8,541.2 316.2,538.2 317.7,536.2 319.2,533.8 320.6,531.5 322.1,528.6 323.6,526.2 325.1,523.4 326.5,521.1 328.0,518.1 329.5,515.2 330.9,512.4 332.4,509.1 333.9,505.4 335.3,502.3 336.8,498.8 338.3,495.4 339.8,492.7 341.2,489.9 342.7,486.3 344.2,483.2 345.6,480.5 347.1,477.0 348.6,473.0 350.0,469.2 351.5,465.6 353.0,461.9 354.5,457.9 355.9,454.6 357.4,450.6 358.9,447.0 360.3,444.0 361.8,440.1 363.3,437.0 364.7,434.0 366.2,430.7 367.7,426.8 369.2,422.9 370.6,418.7 372.1,415.8 373.6,412.7 375.0,409.9 376.5,408.1 378.0,406.3 379.4,404.1 380.9,402.2 382.4,399.8 383.9,397.0 385.3,395.1 386.8,392.8 388.3,391.3 389.7,389.7 391.2,389.3 392.7,387.8 394.1,386.6 395.6,386.6 397.1,386.5 398.6,385.6 400.0,385.1 401.5,384.2 403.0,383.2 404.4,382.5 405.9,382.5 407.4,383.4 408.8,383.4 410.3,384.1 411.8,384.5 413.3,385.5 414.7,387.4 416.2,388.4 417.7,390.5 419.1,391.8 420.6,392.4 422.1,393.3 423.5,393.4 425.0,394.7 426.5,394.9 428.0,394.9 429.4,394.4 430.9,394.8 432.4,395.7 433.8,396.2 435.3,395.8 436.8,396.3 438.2,395.8 439.7,396.0 441.2,396.1 442.7,396.1 444.1,394.9 445.6,395.2 447.1,394.5 448.5,392.7 450.0,391.9 451.5,391.7 452.9,390.4 454.4,388.7 455.9,388.9 457.4,387.6 458.8,386.2 460.3,386.1 461.8,384.1 463.2,382.5 464.7,381.6 466.2,379.9 467.6,378.7 469.1,377.8 470.6,376.2 472.1,375.0 473.5,374.7 475.0,373.3 476.5,372.1 477.9,371.0 479.4,370.0 480.9,369.5 482.3,367.9 483.8,367.8 485.3,365.7 486.8,365.2 488.2,363.9 489.7,363.5 491.2,363.1 492.6,362.5 494.1,360.6 495.6,360.0 497.0,359.1 498.5,358.4 500.0,358.1 501.5,358.6 502.9,357.8 504.4,358.7 505.9,358.6 507.3,358.3 508.8,358.3 510.3,358.4 511.7,360.4 513.2,359.6 514.7,361.7 516.2,362.1 517.6,363.0 519.1,364.9 520.6,367.6 522.0,368.8 523.5,368.4 525.0,370.4 526.4,375.5 527.9,379.9 529.4,383.9 530.9,385.4 532.3,388.7 533.8,391.1 535.3,396.8 536.7,399.5 538.2,402.6 539.7,407.4 541.1,411.4 542.6,416.7 544.1,420.1 545.6,425.1 547.0,430.8 548.5,436.4 550.0,439.9 551.4,445.7 552.9,451.7 554.4,458.5 555.8,466.1 557.3,472.2 558.8,477.4 560.3,484.4 561.7,489.0 563.2,495.8 564.7,500.7 566.1,504.9 567.6,508.9 569.1,513.3 570.5,517.6 572.0,521.9 573.5,525.9 575.0,530.5 576.4,533.9 577.9,538.5 579.4,541.8 580.8,547.3 582.3,551.2 583.8,555.1 585.2,560.0 586.7,563.7 588.2,565.5 589.7,570.9 591.1,573.7 592.6,578.7 594.1,583.0 595.5,584.7 597.0,588.4 598.5,591.4 599.9,594.9 601.4,598.2 602.9,601.7 604.4,603.3 605.8,607.6 607.3,608.7 608.8,611.7 610.2,614.4 611.7,616.2 613.2,617.2 614.6,619.3 616.1,621.4 617.6,623.6 619.1,626.3 620.5,626.8 622.0,629.6 623.5,631.5 624.9,633.1 626.4,634.6 627.9,636.7 629.3,637.5 630.8,639.1 632.3,640.3 633.8,642.4 635.2,641.5 636.7,644.7 638.2,645.0 639.6,646.3 641.1,647.1 642.6,647.8 644.0,650.1 645.5,651.2 647.0,653.2 648.5,653.3 649.9,656.4 651.4,656.9 652.9,657.8 654.3,658.7 655.8,659.8 657.3,660.7 658.7,662.2 660.2,663.6 661.7,664.5 663.2,664.7 664.6,666.4 666.1,666.9 667.6,668.5 669.0,670.4 670.5,670.2 672.0,670.2 673.4,669.9 674.9,670.6 676.4,671.0 677.9,673.0 679.3,672.5 680.8,673.5 682.3,673.4 683.7,674.2 685.2,675.5 686.7,674.4 688.1,675.0 689.6,675.0 691.1,676.6 692.6,675.7 694.0,676.0 695.5,676.2 697.0,676.5 698.4,678.1 699.9,679.8 701.4,677.5 702.8,679.0 704.3,678.7 705.8,677.9 707.3,678.7 708.7,678.9 710.2,678.9 711.7,681.0 713.1,678.7 714.6,680.6 716.1,680.9 717.5,680.5 719.0,681.3 720.5,682.1 722.0,681.8 723.4,682.3 724.9,682.7 726.4,681.1 727.8,683.8 729.3,684.7 730.8,684.1 732.2,684.5 733.7,683.2 735.2,684.5 736.7,684.4 738.1,684.9 739.6,686.4 741.1,685.5 742.5,686.3 744.0,685.4 745.5,687.0 746.9,687.6 748.4,687.5 749.9,688.0 751.4,690.4 752.8,688.8 754.3,689.5 755.8,690.3 757.2,692.3 758.7,693.7 760.2,693.2 761.6,693.2 763.1,694.2 764.6,696.0 766.1,695.3 767.5,697.5 769.0,698.1 770.5,697.7 771.9,698.6 773.4,699.2 774.9,700.3 776.3,699.0 777.8,701.1 779.3,700.5 780.8,700.8 782.2,701.9 783.7,702.3 785.2,702.4 786.6,702.6 788.1,703.9 789.6,706.4 791.0,707.6 792.5,707.4 794.0,708.5 795.5,707.8 796.9,708.4 798.4,709.0 799.9,708.4 801.3,709.0 802.8,710.6 804.3,711.1 805.7,711.5 807.2,713.2 808.7,713.3 810.2,714.5 811.6,714.0 813.1,714.0 814.6,714.5 816.0,714.5 817.5,714.3 819.0,714.6 820.4,715.5 821.9,715.6 823.4,716.2 824.9,714.3 826.3,715.4 827.8,715.5 829.3,716.2 830.7,716.1 832.2,716.3 833.7,717.6 835.1,717.5 836.6,716.9 838.1,718.9 839.6,718.9 841.0,718.0 842.5,719.2 844.0,718.3 845.4,719.8 846.9,719.0 848.4,718.8 849.8,719.2 851.3,719.0 852.8,719.6 854.3,719.6 855.7,719.4 857.2,718.8 858.7,716.4 860.1,718.9 861.6,717.3 863.1,718.6 864.5,719.1 866.0,718.3 867.5,717.6 869.0,717.6 870.4,717.4 871.9,717.0 873.4,716.8 874.8,716.5 876.3,717.9 877.8,717.1 879.2,717.9 880.7,717.2 882.2,717.6 883.7,717.6 885.1,718.2 886.6,718.7 888.1,718.4 889.5,717.9 891.0,718.0 892.5,719.8 893.9,718.6 895.4,718.7 896.9,720.1 898.4,720.0 899.8,719.8 901.3,719.3 902.8,721.5 904.2,720.4 905.7,720.8 907.2,720.6 908.6,720.1 910.1,720.5 911.6,722.0 913.1,722.3 914.5,722.2 916.0,721.8 917.5,722.0 918.9,723.1 920.4,722.6 921.9,724.5 923.3,724.9 924.8,726.3 926.3,725.1 927.8,724.2 929.2,724.2 930.7,722.5 932.2,724.6 933.6,725.0 935.1,726.0 936.6,725.9 938.0,726.1 939.5,726.1 941.0,726.7 942.5,727.6 943.9,726.1 945.4,726.9 946.9,726.5 948.3,729.0 949.8,729.0 951.3,728.9 952.7,727.9 954.2,729.1 955.7,729.1 957.2,729.6 958.6,729.8 960.1,730.5 961.6,730.2 963.0,731.3 964.5,731.2 966.0,731.1 967.4,731.5 968.9,731.5 970.4,732.7 971.9,732.3 973.3,733.0 974.8,732.9 976.3,732.6 977.7,734.6 979.2,733.7 980.7,735.4 982.1,735.7 983.6,734.7 985.1,735.7 986.6,736.6 988.0,736.9"/>
<polyline fill="none" stroke="#ff00ff" stroke-width="4.3" stroke-linejoin="round" stroke-linecap="round" points="107.5,642.4 109.0,642.9 110.4,642.8 111.9,643.0 113.4,642.9 114.8,643.1 116.3,642.8 117.8,642.9 119.3,642.9 120.7,642.6 122.2,642.3 123.7,642.0 125.1,641.9 126.6,641.7 128.1,641.2 129.5,640.7 131.0,640.5 132.5,640.4 134.0,639.4 135.4,638.9 136.9,638.3 138.4,637.1 139.8,637.0 141.3,636.1 142.8,635.8 144.2,634.7 145.7,633.7 147.2,633.0 148.7,632.2 150.1,631.1 151.6,630.2 153.1,628.9 154.5,628.1 156.0,627.2 157.5,626.3 158.9,624.8 160.4,623.5 161.9,622.4 163.4,621.1 164.8,619.9 166.3,618.4 167.8,616.8 169.2,615.4 170.7,613.9 172.2,612.4 173.6,610.8 175.1,609.0 176.6,607.1 178.1,605.7 179.5,603.7 181.0,602.3 182.5,600.5 183.9,598.4 185.4,596.9 186.9,595.1 188.3,593.0 189.8,591.3 191.3,589.3 192.8,586.6 194.2,585.0 195.7,582.8 197.2,580.6 198.6,578.6 200.1,576.1 201.6,573.9 203.0,571.6 204.5,569.4 206.0,567.2 207.5,564.7 208.9,562.5 210.4,560.5 211.9,558.1 213.3,555.8 214.8,553.0 216.3,550.9 217.7,548.6 219.2,546.4 220.7,544.0 222.2,541.9 223.6,539.4 225.1,537.1 226.6,534.8 228.0,532.6 229.5,530.1 231.0,528.1 232.4,525.7 233.9,523.4 235.4,521.1 236.9,519.0 238.3,516.8 239.8,514.6 241.3,512.3 242.7,510.2 244.2,507.9 245.7,505.9 247.1,503.5 248.6,501.0 250.1,499.5 251.6,497.1 253.0,494.8 254.5,492.9 256.0,490.6 257.4,489.1 258.9,486.7 260.4,484.2 261.8,482.5 263.3,480.3 264.8,478.7 266.3,476.0 267.7,473.7 269.2,472.1 270.7,470.0 272.1,467.9 273.6,465.6 275.1,464.0 276.5,462.2 278.0,459.5 279.5,458.1 281.0,455.7 282.4,454.2 283.9,451.8 285.4,449.6 286.8,447.9 288.3,445.7 289.8,443.4 291.2,441.6 292.7,439.2 294.2,436.9 295.7,435.5 297.1,432.9 298.6,430.7 300.1,428.7 301.5,426.1 303.0,424.0 304.5,421.9 305.9,419.6 307.4,417.4 308.9,415.3 310.4,412.6 311.8,410.4 313.3,408.0 314.8,405.2 316.2,403.0 317.7,400.2 319.2,398.0 320.6,395.3 322.1,392.5 323.6,389.5 325.1,387.0 326.5,384.0 328.0,381.5 329.5,378.4 330.9,375.2 332.4,372.6 333.9,369.5 335.3,366.0 336.8,363.3 338.3,359.7 339.8,356.3 341.2,353.0 342.7,349.3 344.2,345.8 345.6,342.2 347.1,338.9 348.6,335.1 350.0,330.6 351.5,326.9 353.0,322.1 354.5,317.9 355.9,313.6 357.4,309.1 358.9,305.6 360.3,301.0 361.8,296.9 363.3,294.1 364.7,290.2 366.2,286.9 367.7,282.8 369.2,280.5 370.6,276.7 372.1,272.7 373.6,268.7 375.0,265.0 376.5,261.1 378.0,258.6 379.4,255.8 380.9,253.7 382.4,251.8 383.9,248.3 385.3,243.9 386.8,241.7 388.3,242.0 389.7,245.0 391.2,247.5 392.7,246.2 394.1,243.5 395.6,241.5 397.1,241.6 398.6,240.1 400.0,240.3 401.5,240.1 403.0,239.8 404.4,238.8 405.9,238.7 407.4,238.6 408.8,238.6 410.3,238.1 411.8,238.0 413.3,239.0 414.7,239.2 416.2,239.3 417.7,239.3 419.1,240.0 420.6,240.4 422.1,241.3 423.5,241.4 425.0,243.1 426.5,246.5 428.0,251.1 429.4,253.4 430.9,254.2 432.4,254.7 433.8,255.3 435.3,254.7 436.8,255.2 438.2,255.4 439.7,255.3 441.2,255.6 442.7,254.7 444.1,254.5 445.6,254.8 447.1,254.3 448.5,254.2 450.0,252.7 451.5,251.3 452.9,251.1 454.4,249.5 455.9,248.1 457.4,248.5 458.8,246.4 460.3,245.3 461.8,244.1 463.2,243.3 464.7,241.5 466.2,240.6 467.6,238.4 469.1,236.9 470.6,236.7 472.1,235.3 473.5,233.6 475.0,232.0 476.5,230.4 477.9,228.2 479.4,227.0 480.9,224.3 482.3,222.0 483.8,219.9 485.3,218.2 486.8,215.9 488.2,214.0 489.7,211.4 491.2,210.2 492.6,207.4 494.1,201.5 495.6,198.3 497.0,196.4 498.5,205.8 500.0,215.1 501.5,215.8 502.9,217.6 504.4,216.8 505.9,215.6 507.3,214.7 508.8,213.8 510.3,214.3 511.7,215.4 513.2,214.3 514.7,214.2 516.2,213.5 517.6,214.1 519.1,214.8 520.6,216.2 522.0,217.3 523.5,218.9 525.0,220.7 526.4,222.2 527.9,224.1 529.4,226.3 530.9,229.6 532.3,232.3 533.8,235.8 535.3,238.9 536.7,241.0 538.2,244.2 539.7,246.0 541.1,250.9 542.6,253.8 544.1,257.4 545.6,261.6 547.0,266.9 548.5,269.7 550.0,274.0 551.4,279.4 552.9,284.8 554.4,290.6 555.8,297.2 557.3,301.6 558.8,307.6 560.3,312.4 561.7,317.5 563.2,323.4 564.7,327.7 566.1,334.4 567.6,338.3 569.1,344.9 570.5,348.4 572.0,354.4 573.5,358.6 575.0,363.7 576.4,369.7 577.9,375.4 579.4,379.6 580.8,385.5 582.3,388.6 583.8,394.0 585.2,400.5 586.7,404.8 588.2,406.3 589.7,410.8 591.1,413.3 592.6,416.3 594.1,419.7 595.5,423.3 597.0,427.9 598.5,433.6 599.9,437.4 601.4,441.4 602.9,446.0 604.4,449.1 605.8,444.8 607.3,438.9 608.8,436.4 610.2,437.3 611.7,441.2 613.2,446.7 614.6,452.7 616.1,457.7 617.6,462.2 619.1,466.5 620.5,471.6 622.0,476.4 623.5,480.2 624.9,483.1 626.4,484.8 627.9,486.2 629.3,489.1 630.8,490.8 632.3,493.0 633.8,495.2 635.2,496.5 636.7,498.5 638.2,501.1 639.6,503.6 641.1,505.7 642.6,508.9 644.0,510.6 645.5,511.9 647.0,514.2 648.5,516.8 649.9,516.5 651.4,518.9 652.9,520.1 654.3,521.1 655.8,520.5 657.3,523.3 658.7,523.1 660.2,524.3 661.7,525.9 663.2,528.1 664.6,529.3 666.1,530.4 667.6,532.2 669.0,531.7 670.5,532.2 672.0,534.1 673.4,534.7 674.9,535.6 676.4,534.8 677.9,536.8 679.3,536.8 680.8,538.2 682.3,536.7 683.7,538.4 685.2,539.0 686.7,540.6 688.1,544.2 689.6,546.0 691.1,544.7 692.6,544.2 694.0,544.9 695.5,544.8 697.0,544.8 698.4,543.5 699.9,544.1 701.4,544.8 702.8,543.8 704.3,544.6 705.8,547.3 707.3,549.6 708.7,549.3 710.2,549.4 711.7,550.5 713.1,551.0 714.6,551.8 716.1,552.5 717.5,552.1 719.0,551.8 720.5,552.7 722.0,552.2 723.4,553.1 724.9,553.1 726.4,555.8 727.8,554.9 729.3,554.2 730.8,554.4 732.2,555.2 733.7,554.8 735.2,555.8 736.7,556.2 738.1,557.7 739.6,557.0 741.1,557.0 742.5,556.8 744.0,557.0 745.5,557.9 746.9,558.0 748.4,559.2 749.9,558.4 751.4,560.6 752.8,561.4 754.3,562.7 755.8,562.7 757.2,564.3 758.7,566.6 760.2,567.9 761.6,567.9 763.1,569.2 764.6,569.3 766.1,570.4 767.5,571.5 769.0,574.3 770.5,575.4 771.9,576.5 773.4,577.6 774.9,579.1 776.3,579.7 777.8,579.6 779.3,582.0 780.8,581.7 782.2,582.2 783.7,583.9 785.2,584.3 786.6,584.4 788.1,585.8 789.6,586.1 791.0,588.2 792.5,588.6 794.0,592.1 795.5,590.5 796.9,592.8 798.4,592.2 799.9,592.7 801.3,594.3 802.8,596.1 804.3,598.0 805.7,600.4 807.2,600.8 808.7,602.0 810.2,601.2 811.6,602.4 813.1,602.1 814.6,601.8 816.0,602.3 817.5,602.5 819.0,602.9 820.4,603.6 821.9,603.6 823.4,604.2 824.9,606.0 826.3,604.8 827.8,605.9 829.3,607.3 830.7,604.2 832.2,605.4 833.7,606.1 835.1,604.2 836.6,607.0 838.1,603.5 839.6,610.6 841.0,615.4 842.5,615.6 844.0,615.1 845.4,615.7 846.9,615.0 848.4,616.3 849.8,615.1 851.3,615.7 852.8,616.6 854.3,614.9 855.7,614.9 857.2,614.8 858.7,613.2 860.1,614.5 861.6,613.7 863.1,612.5 864.5,613.8 866.0,613.7 867.5,614.3 869.0,615.3 870.4,615.2 871.9,616.6 873.4,615.6 874.8,617.0 876.3,616.4 877.8,617.2 879.2,616.3 880.7,616.5 882.2,616.2 883.7,617.5 885.1,617.9 886.6,618.9 888.1,618.4 889.5,617.8 891.0,617.7 892.5,618.2 893.9,618.1 895.4,619.3 896.9,619.1 898.4,618.0 899.8,618.2 901.3,619.8 902.8,619.3 904.2,619.1 905.7,620.4 907.2,619.9 908.6,620.8 910.1,621.6 911.6,621.5 913.1,624.3 914.5,623.4 916.0,624.1 917.5,624.2 918.9,625.4 920.4,625.0 921.9,625.2 923.3,624.1 924.8,625.5 926.3,624.8 927.8,626.5 929.2,627.0 930.7,627.1 932.2,629.0 933.6,628.3 935.1,628.6 936.6,628.4 938.0,628.4 939.5,629.3 941.0,629.6 942.5,628.1 943.9,629.9 945.4,629.8 946.9,630.4 948.3,630.4 949.8,629.6 951.3,630.0 952.7,632.6 954.2,632.1 955.7,632.0 957.2,634.5 958.6,635.1 960.1,634.9 961.6,634.9 963.0,635.6 964.5,637.1 966.0,637.0 967.4,637.0 968.9,637.5 970.4,637.8 971.9,636.0 973.3,637.4 974.8,637.2 976.3,637.1 977.7,637.7 979.2,638.1 980.7,638.3 982.1,637.7 983.6,639.0 985.1,642.1 986.6,641.6 988.0,643.1"/>
</g>
<rect x="107.5" y="22.1" width="881.0" height="747.9" fill="none" stroke="#000" stroke-width="3.3"/>
</svg>
</body></html>
